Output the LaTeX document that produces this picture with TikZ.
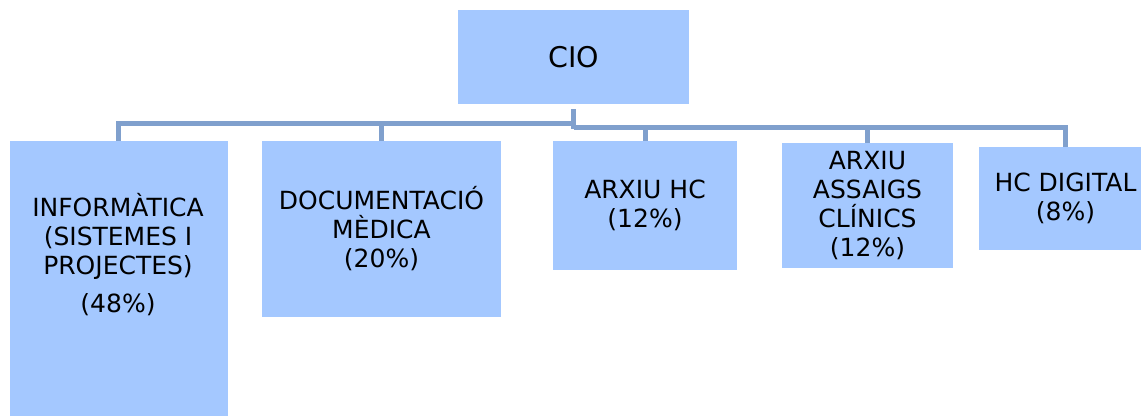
\documentclass[tikz,border=0pt]{standalone}
\usepackage{fontspec}
\setmainfont{DejaVu Sans}
\begin{document}
\begin{tikzpicture}[x=1pt,y=-1pt,
  box/.style={rectangle, fill=boxblue, draw=none, inner sep=0pt, align=center,
    font=\fontsize{25}{29}\selectfont},
  lbl/.style={inner sep=0pt, align=center, font=\fontsize{25}{29}\selectfont},
  conn/.style={draw=linkblue, line width=5pt, line join=miter, line cap=butt}]
\definecolor{boxblue}{RGB}{164,200,255}
\definecolor{linkblue}{RGB}{128,160,205}
\useasboundingbox (0,0) rectangle (1141,416);
\clip (0,0) rectangle (1141,416);

% top of the chart
\node[box, minimum width=231pt, minimum height=94pt,
  font=\fontsize{28.5}{32}\selectfont] (cio) at (573.5,57) {CIO};

% departments
\node[box, minimum width=218pt, minimum height=275pt] (inf) at (118.5,278.5) {};
\node[lbl] (inftext) at (118,255) {INFORMÀTICA\\(SISTEMES I\\PROJECTES)\\[9pt](48\%)};
\node[box, minimum width=239pt, minimum height=176pt] (doc) at (381.5,229) {DOCUMENTACIÓ\\MÈDICA\\(20\%)};
\node[box, minimum width=184pt, minimum height=129pt] (hc) at (645,205.5) {ARXIU HC\\(12\%)};
\node[box, minimum width=171pt, minimum height=125pt] (ass) at (867.5,205.5) {ARXIU\\ASSAIGS\\CLÍNICS\\(12\%)};
\node[box, minimum width=173pt, minimum height=103pt] (dig) at (1065.5,198.5) {HC DIGITAL\\(8\%)};

% connector bus
\coordinate (busl) at (573.5,123);
\coordinate (busr) at (573.5,127);
\draw[conn, shorten <=5pt] (cio.south) -- ([yshift=-2pt]busr);
\draw[conn] (busl) -| (inf.north);
\draw[conn] (busl) -| (doc.north);
\draw[conn] (busr) -| (hc.north);
\draw[conn] (busr) -| (ass.north);
\draw[conn] (busr) -| (dig.north);
\end{tikzpicture}
\end{document}
